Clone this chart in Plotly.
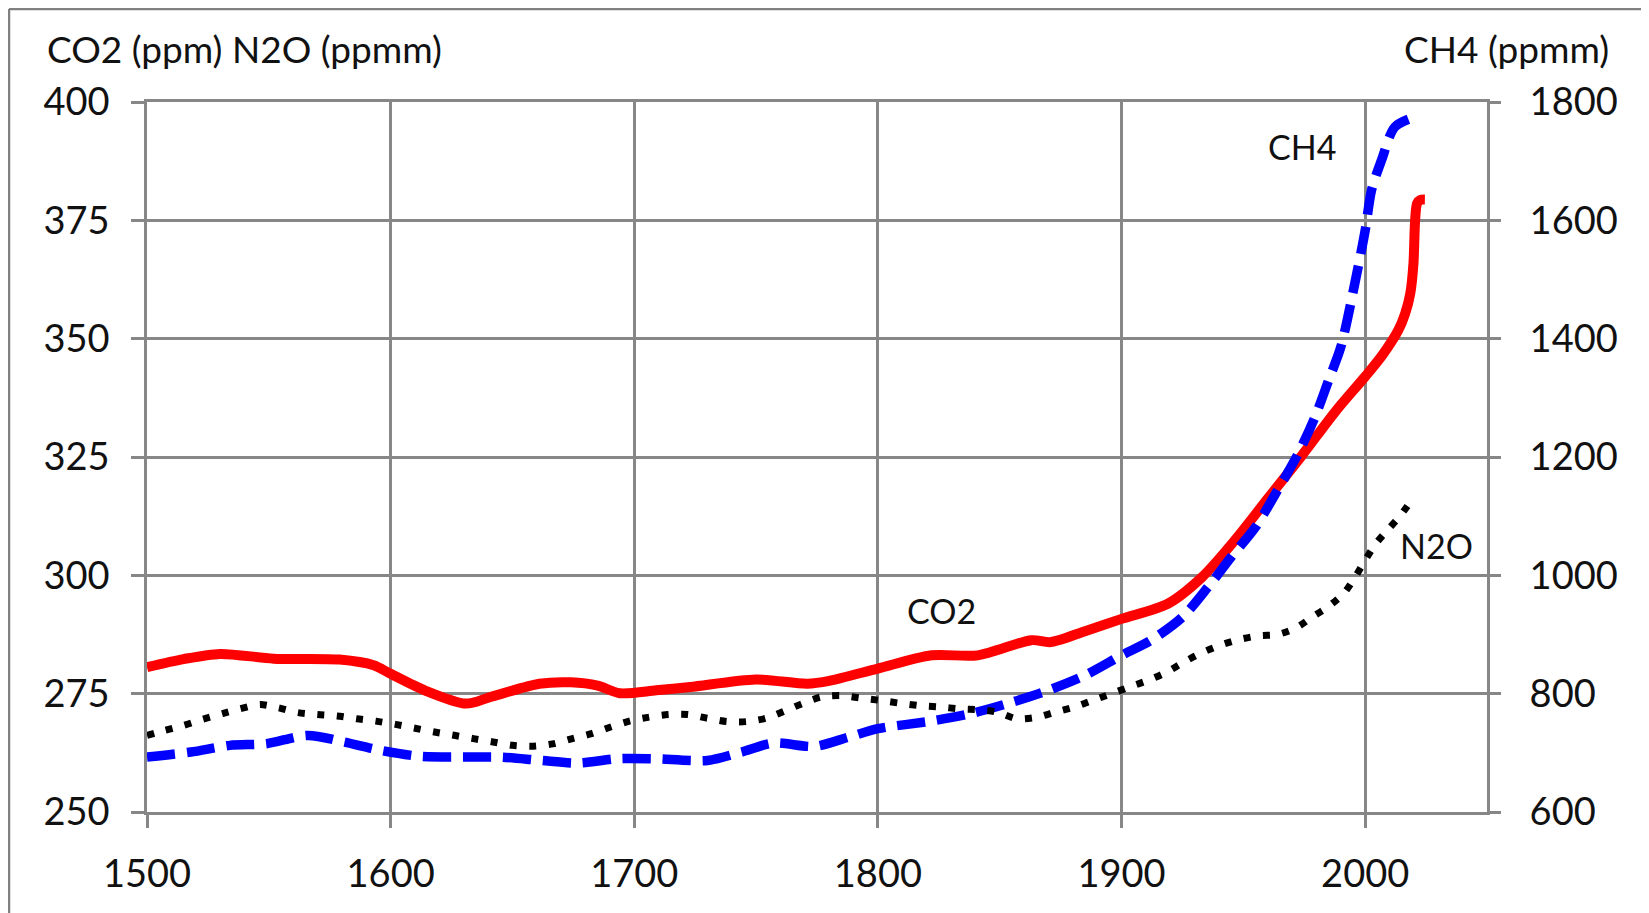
import plotly.graph_objects as go

# ---------------- data ----------------
co2_years = [1500, 1515, 1530, 1552, 1579, 1593, 1600, 1614, 1631, 1641, 1661, 1674,
             1685, 1694, 1709, 1723, 1750, 1771, 1780, 1800, 1822, 1841, 1863, 1871,
             1885, 1900, 1919, 1933, 1946.5, 1960, 1974, 1987.6, 2000, 2007, 2013.6,
             2016.4, 2018.5, 2019.8, 2020.5, 2021.3, 2022.6, 2024.5]
co2_ppm = [280.6, 282.3, 283.4, 282.4, 282.2, 281.0, 279.2, 275.7, 272.9, 274.3, 277.1, 277.4,
           276.7, 275.1, 275.7, 276.4, 278.0, 277.1, 277.7, 280.3, 283.1, 283.1, 286.3, 285.9,
           288.2, 290.8, 294.0, 299.6, 307.4, 316.2, 325.3, 334.5, 342.0, 346.5, 351.8,
           355.3, 359.5, 365.8, 375.0, 378.6, 379.3, 379.4]

ch4_years = [1500, 1518, 1534, 1549, 1566, 1581, 1596, 1612, 1629, 1645, 1661.5, 1677,
             1693, 1708, 1730, 1744, 1757, 1774, 1788, 1800, 1822, 1838, 1853, 1868,
             1885, 1900, 1912, 1925, 1935.5, 1945, 1955, 1964, 1972.5, 1979.4, 1985,
             1990, 1996, 2000, 2002.6, 2006.7, 2012.2, 2020.5]
ch4_ppb = [692.8, 701.3, 712.6, 715.5, 729.5, 718.2, 704.1, 694, 692.8, 692.8, 687.2, 682.7,
           690, 690, 687.2, 701.3, 716.5, 710.9, 726.6, 740.8, 753.7, 766.2, 783.1, 802.7,
           831, 864.8, 890, 929.5, 980.2, 1031, 1081.7, 1143.7, 1205.8, 1267.6, 1329.7,
           1386, 1498.7, 1583, 1651, 1701.6, 1758, 1775]

n2o_years = [1500, 1507, 1515, 1523, 1531, 1538, 1546.5, 1554, 1562, 1570, 1578, 1586,
             1594, 1602, 1610, 1618, 1626, 1634, 1642, 1650, 1658.5, 1666.6, 1674.6, 1682,
             1690, 1698, 1705.6, 1714, 1722, 1730, 1738, 1746, 1754, 1761.5, 1769, 1776.6,
             1784.8, 1792.8, 1800.6, 1808.8, 1816.8, 1825.3, 1833.5, 1841.4, 1849, 1857,
             1865, 1872.8, 1880.7, 1888.3, 1895.8, 1903.7, 1911.3, 1918.7, 1925.7, 1932.8,
             1940.3, 1947.9, 1956.1, 1964, 1971.6, 1978.3, 1984.9, 1991.4, 1995.8, 2000,
             2004.4, 2009.8, 2015, 2019.8]
n2o_ppb = [266.2, 267.2, 268.3, 269.6, 270.8, 271.8, 272.7, 272.0, 271.0, 270.6, 270.3, 269.7,
           269.2, 268.5, 267.7, 266.9, 266.2, 265.5, 264.8, 264.1, 263.9, 264.4, 265.5, 266.5,
           267.9, 269.2, 270.0, 270.6, 270.6, 269.8, 269.1, 269.1, 269.8, 271.3, 272.9, 274.3,
           274.6, 274.1, 273.6, 273.0, 272.5, 272.2, 271.8, 271.6, 271.1, 269.7,
           270.0, 271.1, 272.2, 273.6, 275.0, 276.5, 277.9, 279.6, 281.7, 283.6,
           285.2, 286.4, 287.2, 287.5, 288.9, 291.2, 293.4, 296.3, 299.6, 303.2,
           306.7, 309.9, 313.0, 316.5]

x_ticks = [1500, 1600, 1700, 1800, 1900, 2000]
left_ticks = [250, 275, 300, 325, 350, 375, 400]
right_ticks = [600, 800, 1000, 1200, 1400, 1600, 1800]

left_title = "CO2 (ppm) N2O (ppmm)"
right_title = "CH4 (ppmm)"
series_labels = ["CO2", "CH4", "N2O"]

# ---------------- styling ----------------
FONT = "Lato"
GRID = "#878787"
TXT = "#111111"
TICKFONT = dict(family=FONT, size=38, color=TXT)

W, H = 1641, 905
ML, MT, PW, PH = 139, 94, 1340, 710

fig = go.Figure()

fig.add_trace(go.Scatter(
    x=co2_years, y=co2_ppm, mode="lines", name="CO2", yaxis="y",
    line=dict(color="#ff0000", width=10, shape="spline", smoothing=0.8),
    hoverinfo="skip", showlegend=False))

fig.add_trace(go.Scatter(
    x=ch4_years, y=ch4_ppb, mode="lines", name="CH4", yaxis="y2",
    line=dict(color="#0000ff", width=9.5, dash="28px,12px", shape="spline", smoothing=0.8),
    hoverinfo="skip", showlegend=False))

fig.add_trace(go.Scatter(
    x=n2o_years, y=n2o_ppb, mode="lines", name="N2O", yaxis="y3",
    line=dict(color="#000000", width=7, dash="7px,12.5px", shape="spline", smoothing=0.8),
    hoverinfo="skip", showlegend=False))

axis_common = dict(
    showgrid=True, gridcolor=GRID, gridwidth=2.5,
    showline=True, linecolor=GRID, linewidth=2.5, mirror=True,
    ticks="outside", ticklen=13, tickwidth=2.5, tickcolor=GRID,
    tickfont=TICKFONT, zeroline=False, fixedrange=True,
)

fig.update_layout(
    width=W, height=H,
    margin=dict(l=ML, r=W - ML - PW, t=MT, b=H - MT - PH, pad=0),
    paper_bgcolor="#ffffff",
    plot_bgcolor="#ffffff",
    xaxis=dict(range=[1500, 2050], tickmode="array", tickvals=x_ticks,
               ticklabelstandoff=14, **axis_common),
    yaxis=dict(range=[250, 400], tickmode="array", tickvals=left_ticks,
               ticklabelstandoff=14, **axis_common),
    yaxis2=dict(range=[600, 1800], tickmode="array", tickvals=right_ticks,
                overlaying="y", side="right", showgrid=False, showline=False,
                ticks="outside", ticklen=13, tickwidth=2.5, tickcolor=GRID,
                tickfont=TICKFONT, zeroline=False, ticklabelstandoff=21, fixedrange=True),
    yaxis3=dict(range=[250, 400], overlaying="y", visible=False, fixedrange=True),
    shapes=[
        # outer frame lines (left and top) of the chart area
        dict(type="line", xref="paper", yref="paper",
             x0=(1 - ML) / PW, x1=(1 - ML) / PW, y0=-0.3, y1=(PH + MT - 1) / PH,
             line=dict(color="#808080", width=2.5), layer="below"),
        dict(type="line", xref="paper", yref="paper",
             x0=(1 - ML) / PW, x1=1.3, y0=(PH + MT - 1) / PH, y1=(PH + MT - 1) / PH,
             line=dict(color="#808080", width=2.5), layer="below"),
    ],
    annotations=[
        dict(text=left_title, xref="paper", yref="paper", x=(37 - ML) / PW, y=(PH + MT - 40) / PH,
             xanchor="left", yanchor="middle", showarrow=False,
             font=dict(family=FONT, size=37, color=TXT)),
        dict(text=right_title, xref="paper", yref="paper", x=(1603 - ML) / PW, y=(PH + MT - 40) / PH,
             xanchor="right", yanchor="middle", showarrow=False,
             font=dict(family=FONT, size=37, color=TXT)),
        dict(text=series_labels[0], x=1826, y=292.6, xref="x", yref="y",
             showarrow=False, font=dict(family=FONT, size=34, color=TXT)),
        dict(text=series_labels[1], x=1974, y=390.5, xref="x", yref="y",
             showarrow=False, font=dict(family=FONT, size=34, color=TXT)),
        dict(text=series_labels[2], x=2029.4, y=306.3, xref="x", yref="y",
             showarrow=False, font=dict(family=FONT, size=34, color=TXT)),
    ],
)

fig.write_html("out.html")
